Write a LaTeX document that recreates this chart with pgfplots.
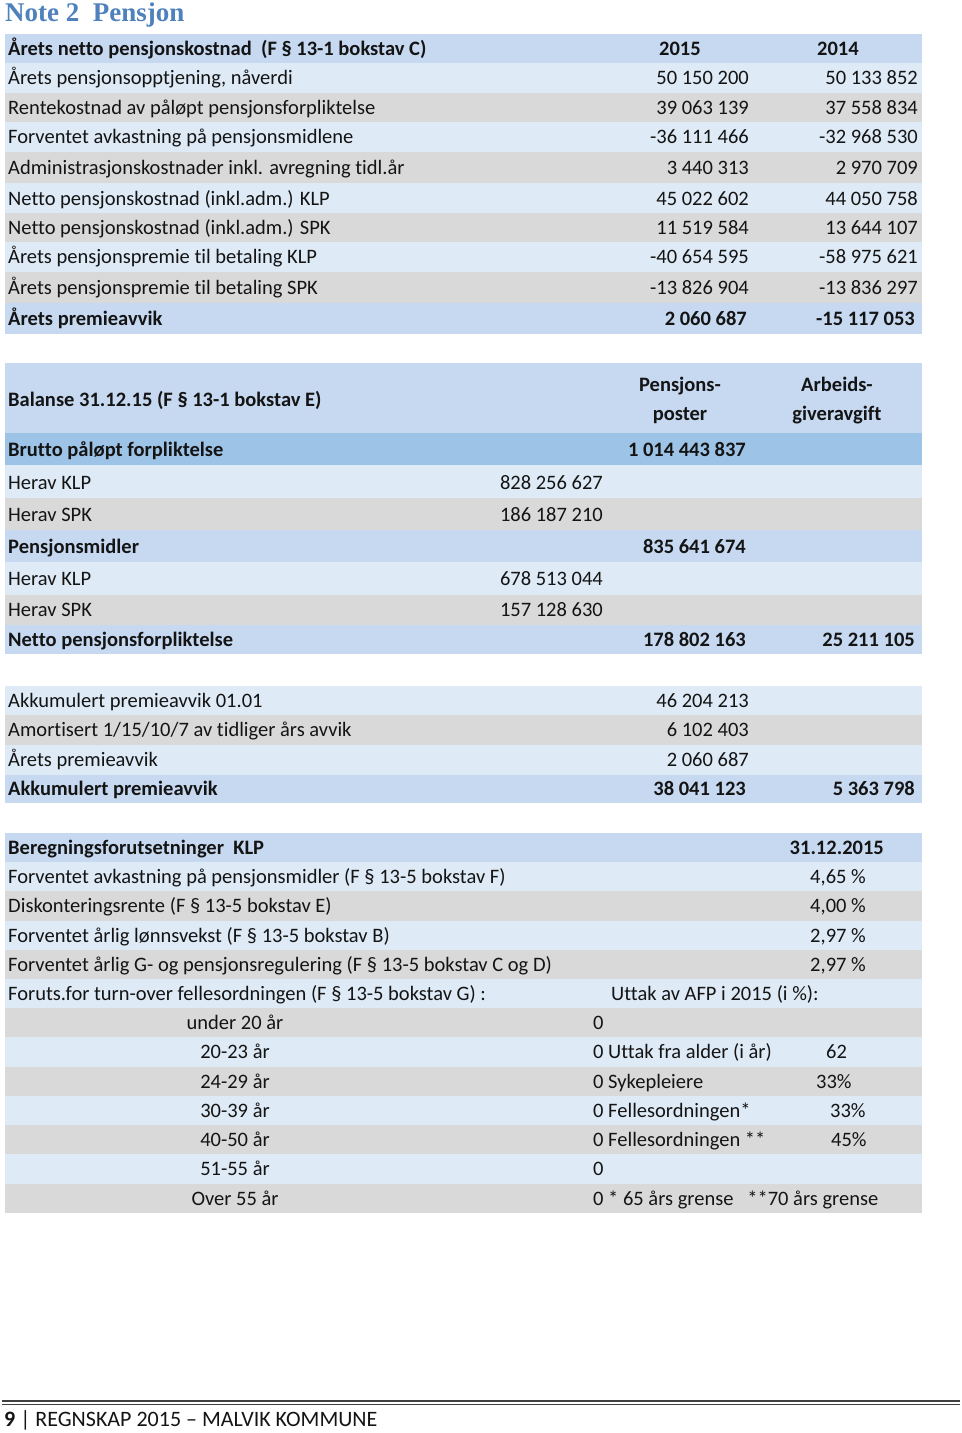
\documentclass[border=0pt]{standalone}
\usepackage{pgfplots}
\pgfplotsset{compat=1.18}
\usepackage{fontspec}
\setmainfont{Carlito}[Ligatures=NoCommon]
\newfontfamily\titlefont{Liberation Serif}
\definecolor{hdr}{RGB}{198,217,241}
\definecolor{dark}{RGB}{157,195,230}
\definecolor{lite}{RGB}{222,234,246}
\definecolor{gry}{RGB}{217,217,217}
\definecolor{txt}{RGB}{20,20,20}
\definecolor{ttl}{RGB}{79,129,189}
\newcommand\fs{\fontsize{20.5}{24}\selectfont}
\tikzset{cell/.style={inner sep=0pt,text=txt,font=\fs,yshift=-4.5pt}}
% background row: y0 y1 colour
\newcommand\bg[3]{\fill[#3] (axis cs:5,#1) rectangle (axis cs:922,#2);}
% left text: x y text
\newcommand\lt[3]{\node[cell,anchor=mid west] at (axis cs:#1,#2) {#3};}
% right text: xright y text
\newcommand\rt[3]{\node[cell,anchor=mid east] at (axis cs:#1,#2) {#3};}
\newcommand\ct[3]{\node[cell,anchor=mid] at (axis cs:#1,#2) {#3};}
\begin{document}
\begin{tikzpicture}
\begin{axis}[
  scale only axis, width=960pt, height=1433pt,
  xmin=0, xmax=960, ymin=0, ymax=1433, y dir=reverse,
  hide axis, clip=false]
\fill[white] (axis cs:0,0) rectangle (axis cs:960,1433);
% Title
\node[anchor=mid west,inner sep=0pt,text=ttl,yshift=-4.5pt,font=\titlefont\bfseries\fontsize{27}{31}\selectfont] at (axis cs:5,15) {Note 2\ \ Pensjon};
% ---------- Table 1 ----------
\bg{34}{63}{hdr}
\bg{63}{93}{lite}
\bg{93}{122}{gry}
\bg{122}{152}{lite}
\bg{152}{183}{gry}
\bg{183}{213}{lite}
\bg{213}{242}{gry}
\bg{242}{272}{lite}
\bg{272}{303}{gry}
\bg{303}{334}{hdr}
\lt{8}{49}{\bfseries Årets netto pensjonskostnad\ \ (F § 13-1 bokstav C)}
\lt{659}{49}{\bfseries 2015}
\lt{817}{49}{\bfseries 2014}
\lt{8}{78}{Årets pensjonsopptjening, nåverdi}
\rt{749}{78}{50 150 200}\rt{918}{78}{50 133 852}
\lt{8}{108}{Rentekostnad av påløpt pensjonsforpliktelse}
\rt{749}{108}{39 063 139}\rt{918}{108}{37 558 834}
\lt{8}{137}{Forventet avkastning på pensjonsmidlene}
\rt{749}{137}{-36 111 466}\rt{918}{137}{-32 968 530}
\lt{8}{168}{Administrasjonskostnader inkl. avregning tidl.år}
\rt{749}{168}{3 440 313}\rt{918}{168}{2 970 709}
\lt{8}{199}{Netto pensjonskostnad (inkl.adm.) KLP}
\rt{749}{199}{45 022 602}\rt{918}{199}{44 050 758}
\lt{8}{228}{Netto pensjonskostnad (inkl.adm.) SPK}
\rt{749}{228}{11 519 584}\rt{918}{228}{13 644 107}
\lt{8}{257}{Årets pensjonspremie til betaling KLP}
\rt{749}{257}{-40 654 595}\rt{918}{257}{-58 975 621}
\lt{8}{288}{Årets pensjonspremie til betaling SPK}
\rt{749}{288}{-13 826 904}\rt{918}{288}{-13 836 297}
\lt{8}{319}{\bfseries Årets premieavvik}
\rt{747}{319}{\bfseries 2 060 687}\rt{915}{319}{\bfseries -15 117 053}
% ---------- Table 2 ----------
\bg{363}{433}{hdr}
\bg{433}{465}{dark}
\bg{465}{498}{lite}
\bg{498}{530}{gry}
\bg{530}{562}{hdr}
\bg{562}{595}{lite}
\bg{595}{625}{gry}
\bg{625}{654}{hdr}
\lt{8}{400}{\bfseries Balanse 31.12.15 (F § 13-1 bokstav E)}
\ct{680}{385}{\bfseries Pensjons-}
\ct{680}{414}{\bfseries poster}
\ct{837}{385}{\bfseries Arbeids-}
\ct{837}{414}{\bfseries giveravgift}
\lt{8}{450}{\bfseries Brutto påløpt forpliktelse}
\rt{746}{450}{\bfseries 1 014 443 837}
\lt{8}{483}{Herav KLP}\rt{603}{483}{828 256 627}
\lt{8}{515}{Herav SPK}\rt{603}{515}{186 187 210}
\lt{8}{547}{\bfseries Pensjonsmidler}
\rt{746}{547}{\bfseries 835 641 674}
\lt{8}{579}{Herav KLP}\rt{603}{579}{678 513 044}
\lt{8}{610}{Herav SPK}\rt{603}{610}{157 128 630}
\lt{8}{640}{\bfseries Netto pensjonsforpliktelse}
\rt{746}{640}{\bfseries 178 802 163}\rt{915}{640}{\bfseries 25 211 105}
% ---------- Table 3 ----------
\bg{686}{715}{lite}
\bg{715}{745}{gry}
\bg{745}{775}{lite}
\bg{775}{803}{hdr}
\lt{8}{701}{Akkumulert premieavvik 01.01}\rt{749}{701}{46 204 213}
\lt{8}{730}{Amortisert 1/15/10/7 av tidliger års avvik}\rt{749}{730}{6 102 403}
\lt{8}{760}{Årets premieavvik}\rt{749}{760}{2 060 687}
\lt{8}{789}{\bfseries Akkumulert premieavvik}
\rt{746}{789}{\bfseries 38 041 123}\rt{915}{789}{\bfseries 5 363 798}
% ---------- Table 4 ----------
\bg{833}{862}{hdr}
\bg{862}{891}{lite}
\bg{891}{921}{gry}
\bg{921}{950}{lite}
\bg{950}{979}{gry}
\bg{979}{1008}{lite}
\bg{1008}{1037}{gry}
\bg{1037}{1067}{lite}
\bg{1067}{1096}{gry}
\bg{1096}{1125}{lite}
\bg{1125}{1154}{gry}
\bg{1154}{1184}{lite}
\bg{1184}{1213}{gry}
\lt{8}{848}{\bfseries Beregningsforutsetninger\ \ KLP}
\rt{884}{848}{\bfseries 31.12.2015}
\lt{8}{877}{Forventet avkastning på pensjonsmidler (F § 13-5 bokstav F)}\rt{866}{877}{4,65 \%}
\lt{8}{906}{Diskonteringsrente (F § 13-5 bokstav E)}\rt{866}{906}{4,00 \%}
\lt{8}{936}{Forventet årlig lønnsvekst (F § 13-5 bokstav B)}\rt{866}{936}{2,97 \%}
\lt{8}{965}{Forventet årlig G- og pensjonsregulering (F § 13-5 bokstav C og D)}\rt{866}{965}{2,97 \%}
\lt{8}{994}{Foruts.for turn-over fellesordningen (F § 13-5 bokstav G) :}
\lt{611}{994}{Uttak av AFP i 2015 (i \%):}
\ct{235}{1023}{under 20 år}\lt{593}{1023}{0}
\ct{235}{1052}{20-23 år}\lt{593}{1052}{0 Uttak fra alder (i år)}\lt{826}{1052}{62}
\ct{235}{1082}{24-29 år}\lt{593}{1082}{0 Sykepleiere}\lt{816}{1082}{33\%}
\ct{235}{1111}{30-39 år}\lt{593}{1111}{0 Fellesordningen*}\lt{830}{1111}{33\%}
\ct{235}{1140}{40-50 år}\lt{593}{1140}{0 Fellesordningen **}\lt{831}{1140}{45\%}
\ct{235}{1169}{51-55 år}\lt{593}{1169}{0}
\ct{235}{1199}{Over 55 år}\lt{593}{1199}{0 * 65 års grense\ \ \ **70 års grense}
% ---------- Footer ----------
\draw[line width=2.5pt,black!75] (axis cs:2,1401) -- (axis cs:960,1401);
\draw[line width=0.8pt,black!75] (axis cs:2,1404.5) -- (axis cs:960,1404.5);
\node[anchor=mid west,inner sep=0pt,text=txt,yshift=-4.5pt,font=\fontsize{22}{26}\selectfont] at (axis cs:4,1420) {\textbf{9} | REGNSKAP 2015 – MALVIK KOMMUNE};
\end{axis}
\end{tikzpicture}
\end{document}
